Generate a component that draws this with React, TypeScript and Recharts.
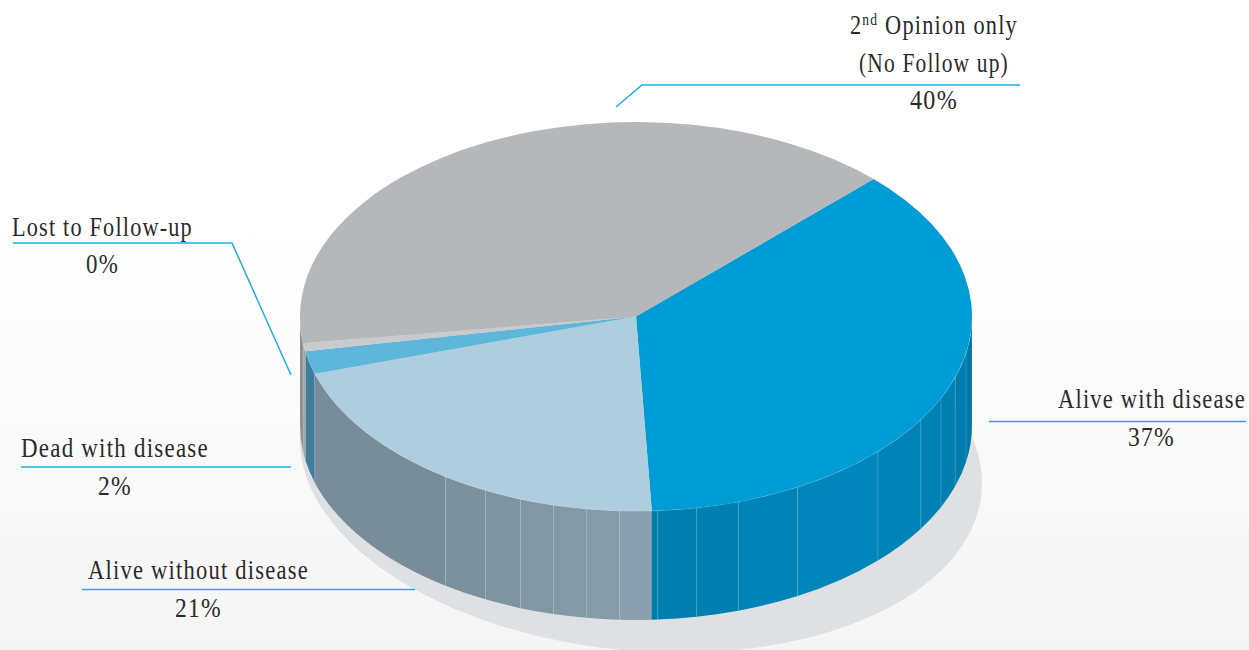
import React from "react";
import { Pie, PieChart } from "recharts";

const WIDTH = 1249;
const HEIGHT = 650;

// top face, going clockwise from the gray / blue edge
const sliceNames = ["Alive with disease", "Alive without disease", "Dead with disease", "Lost to Follow-up", "2nd Opinion only"];
const sliceValues = [36.75, 21, 1.9, 0.65, 39.7];
const sliceColors = ["#009cd6", "#aecddf", "#5fb6db", "#c9cacc", "#b6b7ba"];

// side wall strips in degrees, right edge round to left edge (180 in all)
const wallDegrees = [
  10.8, 7.4, 6.6, 7.2, 11.9, 17.3, 11, 7.3, 6.7, 1.1,
  5.4, 5.7, 5.7, 5.9, 6.5, 7.9, 38.4,
  6.8, 2.3, 7.9,
];
const wallColors = [
  "#0078a8", "#007dae", "#0080b1", "#0082b4", "#0084b7", "#0086ba", "#0083b6", "#0080b1", "#007eae", "#007cab",
  "#8aa0ae", "#869ba8", "#8499a6", "#8197a4", "#7e94a1", "#7c919e", "#788c99",
  "#3e7d9b", "#a3a4a6", "#8f9092",
];

const shadowValues = [100];

const topData = sliceNames.map((name, i) => ({ name, value: sliceValues[i], fill: sliceColors[i] }));
const wallData = wallDegrees.map((value, i) => ({ value, fill: wallColors[i] }));
const shadowData = shadowValues.map((value) => ({ value, fill: "#dfe0e3" }));

const CX = 636;
const CY = 316.5;
const RX = 336;
const SQUASH = 194.5 / 336;
const DEPTH = 109;

const rad = (a: number) => (a * Math.PI) / 180;
const onEllipse = (cx: number, cy: number, rx: number, ry: number, a: number) => [
  cx + rx * Math.cos(rad(a)),
  cy - ry * Math.sin(rad(a)),
];

// Recharts hands us a circular sector, flatten it to an ellipse
const TopSlice = (props: any) => {
  const { cx, cy, outerRadius, startAngle, endAngle, fill } = props;
  const ry = outerRadius * SQUASH;
  const [x1, y1] = onEllipse(cx, cy, outerRadius, ry, startAngle);
  const [x2, y2] = onEllipse(cx, cy, outerRadius, ry, endAngle);
  const large = Math.abs(endAngle - startAngle) > 180 ? 1 : 0;
  return <path d={`M${cx},${cy}L${x1},${y1}A${outerRadius},${ry} 0 ${large} 1 ${x2},${y2}Z`} fill={fill} />;
};

const WallStrip = (props: any) => {
  const { cx, cy, outerRadius, startAngle, endAngle, fill } = props;
  const ry = outerRadius * SQUASH;
  const [x1, y1] = onEllipse(cx, cy, outerRadius, ry, startAngle);
  const [x2, y2] = onEllipse(cx, cy, outerRadius, ry, endAngle);
  return (
    <g>
      <path
        d={`M${x1},${y1}A${outerRadius},${ry} 0 0 1 ${x2},${y2}L${x2},${y2 + DEPTH}A${outerRadius},${ry} 0 0 0 ${x1},${y1 + DEPTH}Z`}
        fill={fill}
      />
      <line x1={x1} y1={y1} x2={x1} y2={y1 + DEPTH} stroke="#fff" strokeOpacity={0.14} strokeWidth={1} />
      <path d={`M${x1},${y1}A${outerRadius},${ry} 0 0 1 ${x2},${y2}`} fill="none" stroke="#fff" strokeOpacity={0.3} strokeWidth={1} />
    </g>
  );
};

// the drop shadow leans a little, lower on the right than on the left
const Shadow = (props: any) => {
  const { cx, cy, outerRadius, fill } = props;
  return <ellipse rx={outerRadius} ry={190} fill={fill} transform={`translate(${cx},${cy}) matrix(1,0.063,0,1,0,0)`} />;
};

// condensed look: measure the text, then squeeze it to the width in the picture
const Caption = ({ x, y, w, children }: { x: number; y: number; w: number; children: React.ReactNode }) => (
  <text
    ref={(el) => {
      if (el) el.setAttribute("transform", `translate(${x},${y}) scale(${(w + 1) / el.getComputedTextLength()},1)`);
    }}
    letterSpacing={1.5}
    fontFamily="'Liberation Serif', serif"
    fontSize={28}
    fill="#2b2a2b"
  >
    {children}
  </text>
);

const Leader = ({ d }: { d: string }) => <path d={d} fill="none" stroke="#1cb0ea" strokeWidth={1.5} />;

export default function App() {
  return (
    <div
      style={{
        position: "absolute",
        left: 0,
        top: 0,
        width: WIDTH,
        height: HEIGHT,
        overflow: "hidden",
        background: "linear-gradient(#ffffff 0, #ffffff 220px, #f5f5f6 650px)",
      }}
    >
      <PieChart width={WIDTH} height={HEIGHT} margin={{ top: 0, right: 0, bottom: 0, left: 0 }}>
        <Pie data={shadowData} dataKey="value" cx={641} cy={461.5} outerRadius={341} stroke="none" shape={Shadow} isAnimationActive={false} />
        <Pie data={wallData} dataKey="value" cx={CX} cy={CY} outerRadius={RX} startAngle={0} endAngle={-180} stroke="none" shape={WallStrip} isAnimationActive={false} />
        <Pie data={topData} dataKey="value" cx={CX} cy={CY} outerRadius={RX} startAngle={45} endAngle={-315} stroke="none" shape={TopSlice} isAnimationActive={false} />
      </PieChart>

      {/* the pies paint over chart children, so captions sit in their own layer */}
      <svg width={WIDTH} height={HEIGHT} style={{ position: "absolute", left: 0, top: 0 }}>
        <Leader d="M1020,85H642L616,107" />
        <Leader d="M13,243H232L291,375" />
        <Leader d="M21,467H291" />
        <Leader d="M82,589.5H415" />
        <Leader d="M989,421.5H1246" />

        <Caption x={850} y={34} w={167}>
          2<tspan dy={-9} fontSize={17}>nd</tspan>
          <tspan dy={9}> Opinion only</tspan>
        </Caption>
        <Caption x={859} y={72} w={149}>(No Follow up)</Caption>
        <Caption x={910} y={109} w={47}>40%</Caption>
        <Caption x={12} y={236} w={180}>Lost to Follow-up</Caption>
        <Caption x={86} y={273} w={32}>0%</Caption>
        <Caption x={21} y={457} w={187}>Dead with disease</Caption>
        <Caption x={98} y={495} w={33}>2%</Caption>
        <Caption x={88} y={579} w={220}>Alive without disease</Caption>
        <Caption x={175} y={617} w={46}>21%</Caption>
        <Caption x={1058} y={408} w={187}>Alive with disease</Caption>
        <Caption x={1128} y={446} w={46}>37%</Caption>
      </svg>
    </div>
  );
}
